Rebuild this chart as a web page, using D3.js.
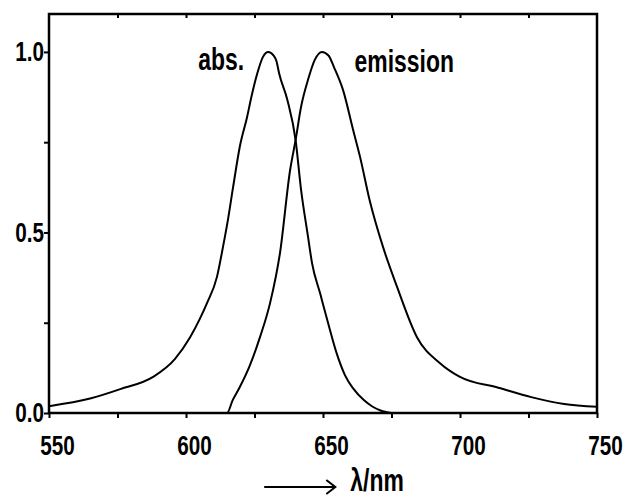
<!DOCTYPE html>
<html>
<head>
<meta charset="utf-8">
<script src="https://cdn.jsdelivr.net/npm/d3@7"></script>
<style>
  html, body { margin: 0; padding: 0; background: #fff; }
  svg { display: block; }
  text { font-family: "Liberation Sans", Arial, sans-serif; font-weight: bold; fill: #000; }
</style>
</head>
<body>
<svg id="chart" width="626" height="499"></svg>
<script>
// ---- data ----
const absWavelength = [550, 565, 576, 588, 596, 601.5, 605, 607.7, 611.3, 613.5, 615.3, 617.2, 619.7, 622.3, 624, 626, 628, 630, 632, 633, 634, 637, 640, 642, 644.5, 646, 649, 652, 655, 658, 661, 665, 668, 671, 675];
const absValue      = [0.019, 0.04, 0.066, 0.10, 0.15, 0.21, 0.26, 0.305, 0.377, 0.46, 0.535, 0.626, 0.74, 0.82, 0.88, 0.94, 0.985, 1.0, 0.99, 0.975, 0.94, 0.867, 0.756, 0.618, 0.49, 0.415, 0.33, 0.245, 0.165, 0.105, 0.068, 0.035, 0.018, 0.007, 0.0];
const emWavelength  = [550, 600, 615, 617, 619.5, 623.2, 627, 630.7, 634.3, 638, 640, 642, 644.5, 647, 649.6, 652, 654, 657.3, 661, 663.5, 667, 671.9, 677, 684.3, 692.7, 700, 714, 726, 738, 750];
const emValue       = [0, 0, 0, 0.035, 0.07, 0.13, 0.21, 0.305, 0.443, 0.673, 0.756, 0.848, 0.922, 0.978, 1.0, 0.99, 0.958, 0.895, 0.784, 0.71, 0.59, 0.46, 0.35, 0.21, 0.138, 0.10, 0.07, 0.044, 0.025, 0.017];
const xTicksMajor = [550, 600, 650, 700, 750];
const xTicksAll   = [550, 575, 600, 625, 650, 675, 700, 725, 750];
const yTicksMajor = [0, 0.5, 1.0];
const yTicksAll   = [0, 0.25, 0.5, 0.75, 1.0];
const seriesLabels = ["abs.", "emission"];
const axisTitle = "λ/nm";

// ---- layout ----
const W = 626, H = 499;
const margin = { left: 49, top: 14, right: 29, bottom: 86 };
const iw = W - margin.left - margin.right;
const ih = H - margin.top - margin.bottom;
const SX = 0.74; // horizontal condensing of the lettering

const svg = d3.select("#chart");
const g = svg.append("g").attr("transform", `translate(${margin.left},${margin.top})`);

const x = d3.scaleLinear().domain([550, 750]).range([0, iw]);
const y = d3.scaleLinear().domain([0, 1.105]).range([ih, 0]);

// frame
g.append("rect").attr("x", 0).attr("y", 0).attr("width", iw).attr("height", ih)
  .attr("fill", "none").attr("stroke", "#000").attr("stroke-width", 2.5);

// bottom axis
const xAxis = d3.axisBottom(x).tickValues(xTicksAll).tickSize(5).tickPadding(17)
  .tickFormat(d => xTicksMajor.includes(d) ? d3.format("d")(d) : "");
const gx = g.append("g").attr("transform", `translate(0,${ih})`).call(xAxis);
gx.select(".domain").remove();
gx.selectAll(".tick line").attr("stroke", "#000").attr("stroke-width", 2);
gx.selectAll(".tick text").attr("font-size", 28).attr("dx", 8 / SX)
  .attr("transform", `scale(${SX},1)`)
  .style("font-family", '"Liberation Sans", Arial, sans-serif').style("font-weight", "bold");

// top axis (inward ticks)
const xTop = d3.axisTop(x).tickValues(xTicksAll.slice(1, -1)).tickSize(-4).tickFormat("");
const gt = g.append("g").call(xTop);
gt.select(".domain").remove();
gt.selectAll(".tick line").attr("stroke", "#000").attr("stroke-width", 2);

// left axis
const yAxis = d3.axisLeft(y).tickValues(yTicksAll).tickSize(5).tickPadding(0)
  .tickFormat(d => yTicksMajor.includes(d) ? d3.format(".1f")(d) : "");
const gy = g.append("g").call(yAxis);
gy.select(".domain").remove();
gy.selectAll(".tick line").attr("stroke", "#000").attr("stroke-width", 2);
gy.selectAll(".tick text").attr("font-size", 28).attr("x", -5 / SX)
  .attr("transform", `scale(${SX},1)`)
  .style("font-family", '"Liberation Sans", Arial, sans-serif').style("font-weight", "bold");

// curves
const line = d3.line().x(d => x(d[0])).y(d => y(d[1])).curve(d3.curveMonotoneX);
const absData = absWavelength.map((w, i) => [w, absValue[i]]);
const emData = emWavelength.map((w, i) => [w, emValue[i]]);
g.append("path").datum(absData).attr("d", line).attr("fill", "none").attr("stroke", "#000").attr("stroke-width", 2);
g.append("path").datum(emData).attr("d", line).attr("fill", "none").attr("stroke", "#000").attr("stroke-width", 2);

// condensed text helper
function ctext(px, py, str, size, anchor) {
  return g.append("text")
    .attr("transform", `translate(${px},${py}) scale(${SX},1)`)
    .attr("text-anchor", anchor || "start")
    .attr("font-size", size)
    .text(str);
}

// series labels
ctext(x(630) - 24, y(1.0) + 18, seriesLabels[0], 31, "end");
ctext(x(661.5), y(1.0) + 20, seriesLabels[1], 31, "start");

// axis title with arrow
const ay = ih + 74;
const ax0 = x(630) - 4, ax1 = x(654.5);
g.append("line").attr("x1", ax0).attr("x2", ax1).attr("y1", ay).attr("y2", ay)
  .attr("stroke", "#000").attr("stroke-width", 2);
g.append("polyline").attr("points", `${ax1 - 9},${ay - 7} ${ax1},${ay} ${ax1 - 9},${ay + 7}`)
  .attr("fill", "none").attr("stroke", "#000").attr("stroke-width", 2);
ctext(ax1 + 15, ay + 4, axisTitle, 31, "start");
</script>
</body>
</html>
